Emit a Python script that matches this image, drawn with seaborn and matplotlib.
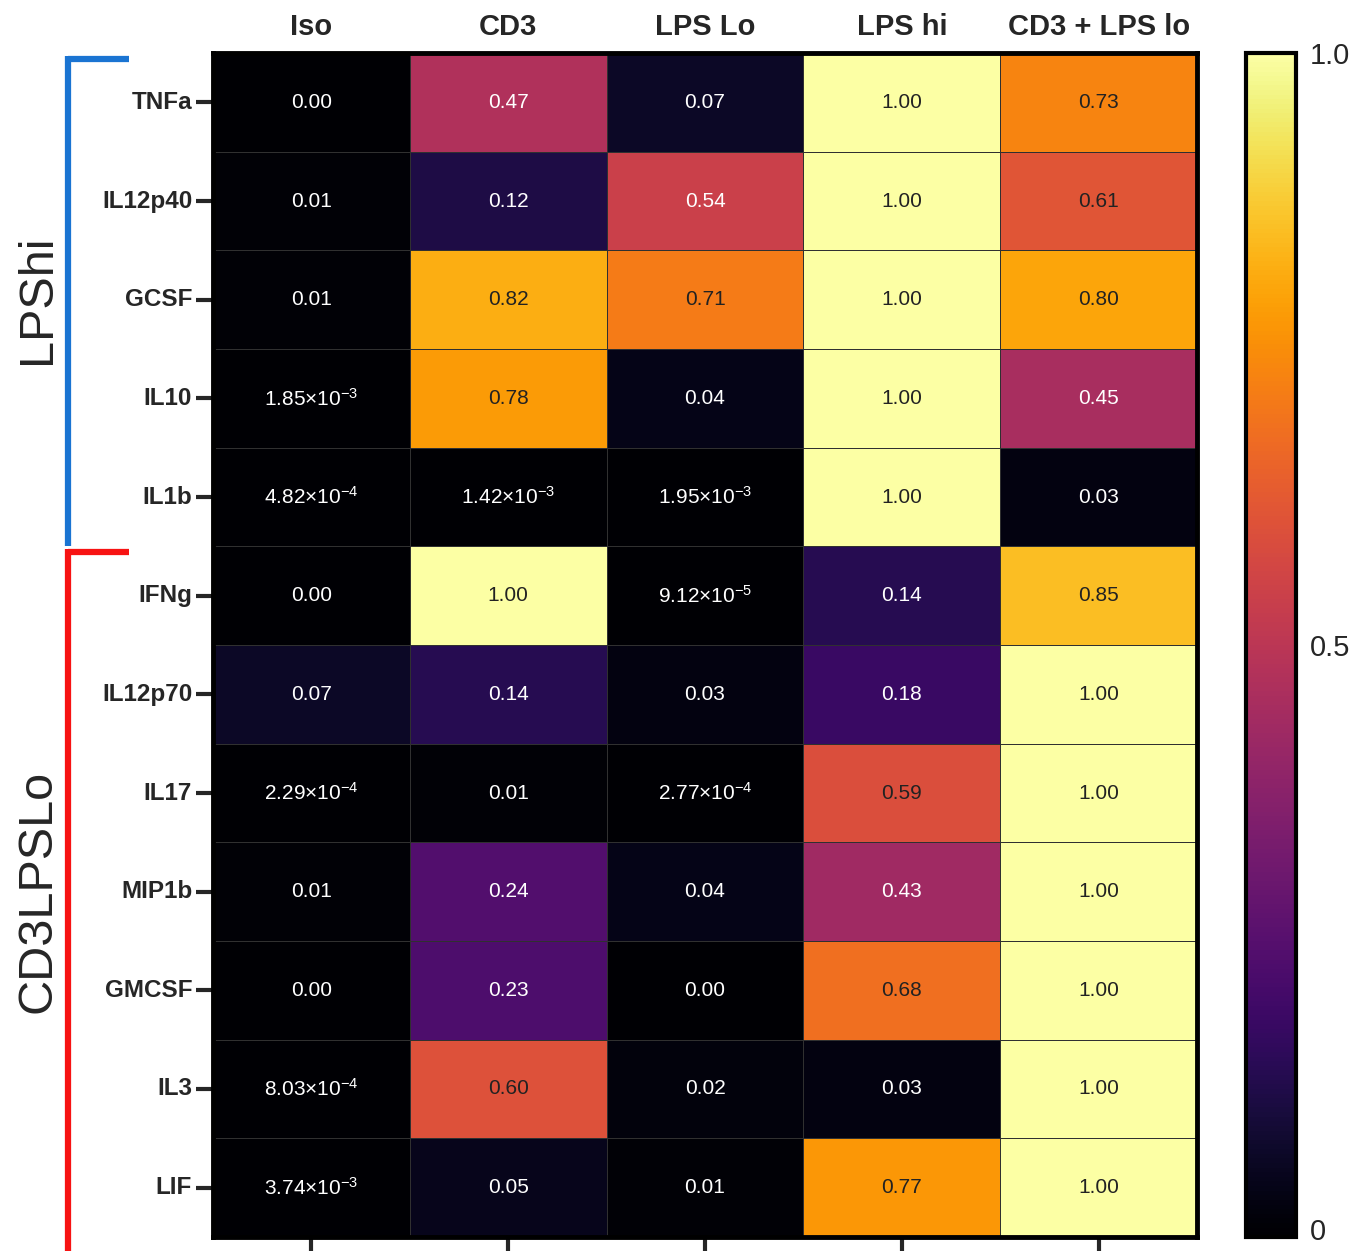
import numpy as np
import pandas as pd
import seaborn as sns
import matplotlib.pyplot as plt
import matplotlib.transforms as mtransforms

sns.set_style("white")
plt.rcParams["font.family"] = ["Liberation Sans", "DejaVu Sans"]
plt.rcParams["mathtext.fontset"] = "custom"
plt.rcParams["mathtext.rm"] = "Liberation Sans"
plt.rcParams["mathtext.it"] = "Liberation Sans"
plt.rcParams["mathtext.bf"] = "Liberation Sans:bold"

# data
cytokines = ["TNFa", "IL12p40", "GCSF", "IL10", "IL1b",
             "IFNg", "IL12p70", "IL17", "MIP1b", "GMCSF", "IL3", "LIF"]
conditions = ["Iso", "CD3", "LPS Lo", "LPS hi", "CD3 + LPS lo"]

iso = [0.0, 0.01, 0.01, 1.85e-3, 4.82e-4, 0.0, 0.07, 2.29e-4, 0.01, 0.0, 8.03e-4, 3.74e-3]
cd3 = [0.47, 0.12, 0.82, 0.78, 1.42e-3, 1.00, 0.14, 0.01, 0.24, 0.23, 0.60, 0.05]
lps_lo = [0.07, 0.54, 0.71, 0.04, 1.95e-3, 9.12e-5, 0.03, 2.77e-4, 0.04, 0.0, 0.02, 0.01]
lps_hi = [1.00, 1.00, 1.00, 1.00, 1.00, 0.14, 0.18, 0.59, 0.43, 0.68, 0.03, 0.77]
cd3_lps_lo = [0.73, 0.61, 0.80, 0.45, 0.03, 0.85, 1.00, 1.00, 1.00, 1.00, 1.00, 1.00]

groups = ["LPShi", "CD3LPSLo"]
group_sizes = [5, 7]
group_colors = ["#1a74d2", "#f71313"]

data = pd.DataFrame({"Iso": iso, "CD3": cd3, "LPS Lo": lps_lo,
                     "LPS hi": lps_hi, "CD3 + LPS lo": cd3_lps_lo},
                    index=cytokines)[conditions]


def fmt(v):
    if v == 0 or v >= 0.005:
        return f"{v:.2f}"
    exp = int(np.floor(np.log10(v)))
    man = v / 10 ** exp
    return f"{man:.2f}×10" + r"$\mathregular{^{" + f"{exp}" + r"}}$"


labels = data.map(fmt).values

fig = plt.figure(figsize=(13.71, 12.51), dpi=100)
ax = fig.add_axes([0.1554, 0.0112, 0.7177, 0.9464])
cax = fig.add_axes([0.9088, 0.0112, 0.0365, 0.9464])

sns.heatmap(data, ax=ax, cbar_ax=cax, cmap="inferno", vmin=0, vmax=1,
            annot=labels, fmt="", linewidths=0.6, linecolor="#303030",
            annot_kws={"fontsize": 15})

# text colour: white on dark cells, dark on light cells
for txt, v in zip(ax.texts, data.values.ravel()):
    txt.set_color("#222222" if v > 0.55 else "white")

for sp in ax.spines.values():
    sp.set_visible(True)
    sp.set_linewidth(3.5)
    sp.set_color("black")

ax.set_xlabel("")
ax.set_ylabel("")
ax.tick_params(axis="x", top=False, labeltop=True, bottom=True, labelbottom=False,
               length=11, width=3, direction="out", pad=-2, labelsize=21)
ax.tick_params(axis="y", left=True, length=12, width=3, direction="out",
               pad=3, labelsize=17.5, rotation=0)
for t in ax.get_xticklabels() + ax.get_yticklabels():
    t.set_fontweight("bold")

# group brackets on the left
trans = mtransforms.blended_transform_factory(ax.transAxes, ax.transData)
start = 0
for name, size, col in zip(groups, group_sizes, group_colors):
    end = start + size
    ax.plot([-0.1474, -0.1474], [start + 0.03, end + (0.15 if end == len(cytokines) else 0)],
            color=col, lw=4.5, transform=trans, clip_on=False, solid_capstyle="butt")
    ax.plot([-0.1474, -0.085], [start + 0.06, start + 0.06],
            color=col, lw=4.5, transform=trans, clip_on=False, solid_capstyle="butt")
    ax.text(-0.178, (start + end) / 2, name, rotation=90, fontsize=35,
            ha="center", va="center", transform=trans)
    start = end

# colourbar
cbar = ax.collections[0].colorbar
cbar.set_ticks([0, 0.5, 1.0])
cbar.set_ticklabels(["0", "0.5", "1.0"])
cbar.outline.set_linewidth(3)
cbar.outline.set_edgecolor("black")
cax.tick_params(axis="y", left=True, right=True, direction="in", length=7, width=2,
                labelsize=21, pad=10)
# lift the "0" label so it stays inside the figure
zero_lbl = cax.get_yticklabels()[0]
zero_lbl.set_transform(zero_lbl.get_transform() +
                       mtransforms.ScaledTranslation(0, 6 / 72, fig.dpi_scale_trans))

fig.savefig("out.png", dpi=100)
